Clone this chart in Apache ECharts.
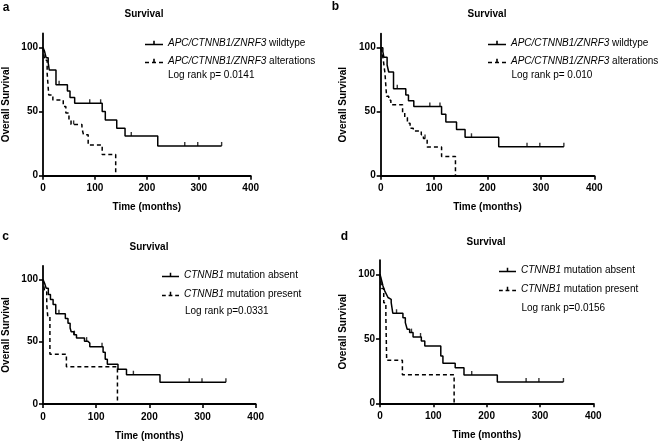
<!DOCTYPE html>
<html><head><meta charset="utf-8">
<script src="https://cdn.jsdelivr.net/npm/echarts@6/dist/echarts.min.js"></script>
<style>html,body{margin:0;padding:0;background:#fff}#c{width:660px;height:442px}</style>
</head><body><div id="c"></div>
<script>
// ---------- DATA ----------
const xTicks = [0, 100, 200, 300, 400];
const yTicks = [0, 50, 100];
const panelLetters = ['a', 'b', 'c', 'd'];
const panelTitle = 'Survival';
const xTitle = 'Time (months)';
const yTitle = 'Overall Survival';
const namesAB = ['APC/CTNNB1/ZNRF3 wildtype', 'APC/CTNNB1/ZNRF3 alterations'];
const namesCD = ['CTNNB1 mutation absent', 'CTNNB1 mutation present'];
const logRankTexts = ['Log rank p= 0.0141', 'Log rank p= 0.010', 'Log rank p=0.0331', 'Log rank p=0.0156'];

// Panel a
const aWildTime = [0,3,6,10,12,25,47,52,61,114,120,142,158,221,344];
const aWildSurv = [100,97,92,88,82.5,71,66,61,56.5,50,43.5,37,31,23.2,23.2];
const aWildCensT = [31,90,111,170,273,298,344];
const aWildCensS = [71,56.5,56.5,31,23.2,23.2,23.2];
const aAltTime = [0,3,8,11,19,39,44,50,54,75,78,87,114,140];
const aAltSurv = [100,90,80,63,59,54,49,43.5,40,37,32,24,16.5,0];
const aAltCensT = [59];
const aAltCensS = [40];
// Panel b
const bWildTime = [0,4,6,12,15,24,47,52,62,114,122,142,158,221,343];
const bWildSurv = [100,97,92.5,86.5,81,68,63,58.5,54,48,42,36,30,22.7,22.7];
const bWildCensT = [31,92,111,170,274,298,343];
const bWildCensS = [68,54,54,30,22.7,22.7,22.7];
const bAltTime = [0,3,5,8,11,15,19,41,45,50,55,61,76,80,87,114,140];
const bAltSurv = [100,95,90,80,62,59,55.5,49,45.5,41,37,35,32,29,22.5,15,0];
const bAltCensT = [83];
const bAltCensS = [29];
// Panel c
const cAbsTime = [0,3,6,10,14,19,24,42,47,51,53,58,63,78,84,88,113,117,121,141,157,220,344];
const cAbsSurv = [100,97,93,88,84,80,72.5,68.6,64.8,61,58,55.7,53,50.5,49,46,41.5,36,32,28,23.5,17.4,17.4];
const cAbsCensT = [30,59,82,111,170,275,299,344];
const cAbsCensS = [72.5,55.7,50.5,46,23.5,17.4,17.4,17.4];
const cPresTime = [0,3,7,9,13,44,140];
const cPresSurv = [100,90,80,70,40,30,0];
// Panel d
const dAbsTime = [0,2.5,5.6,9,12,15,18,21,24,43,47.5,51,55.6,62,77.5,84,114,118,141,157.5,220,344];
const dAbsSurv = [100,96,91,87,84.5,82,80.6,78,69.8,66.4,62.5,57.4,54.8,51.4,48.3,44.4,36.7,31,27.6,22,16.5,16.5];
const dAbsCensT = [31,59,76,172,274,298,344];
const dAbsCensS = [69.8,54.8,51.4,22,16.5,16.5,16.5];
const dPresTime = [0,3,7,11,12.5,42,139];
const dPresSurv = [100,89,78,67,33.3,22.2,0];

// ---------- LAYOUT ----------
const FONT = "'Liberation Sans', Arial, sans-serif";
const zip = (a, b) => a.map((v, i) => [v, b[i]]);
const panels = [
  {grid:{left:37.7, top:33.4, width:213, height:142.3}, names:namesAB,
   curves:[[aWildTime,aWildSurv],[aAltTime,aAltSurv]], cens:[[aWildCensT,aWildCensS],[aAltCensT,aAltCensS]],
   legend:{left:145, top:38, itemWidth:18, itemGap:8}, lr:[168,75], title:[144,14], letter:[6,8]},
  {grid:{left:380.7, top:33.6, width:213.6, height:142.1}, names:namesAB,
   curves:[[bWildTime,bWildSurv],[bAltTime,bAltSurv]], cens:[[bWildCensT,bWildCensS],[bAltCensT,bAltCensS]],
   legend:{left:488, top:38, itemWidth:18, itemGap:8}, lr:[511.5,75], title:[487,14], letter:[335.5,7]},
  {grid:{left:42.3, top:265.8, width:213.4, height:142.9}, names:namesCD,
   curves:[[cAbsTime,cAbsSurv],[cPresTime,cPresSurv]], cens:[[cAbsCensT,cAbsCensS],[[],[]]],
   legend:{left:162, top:270, itemWidth:17, itemGap:9}, lr:[185,311], title:[149,247.5], letter:[5.5,236.5]},
  {grid:{left:380, top:260.1, width:213.3, height:143.2}, names:namesCD,
   curves:[[dAbsTime,dAbsSurv],[dPresTime,dPresSurv]], cens:[[dAbsCensT,dAbsCensS],[[],[]]],
   legend:{left:499, top:265, itemWidth:17, itemGap:9}, lr:[521.5,308.3], title:[486,242], letter:[344.5,236.5]}
];

const solidIcon = 'path://M0,4.2h18v1.6h-18z M8.2,1.2h1.6v3.2h-1.6z';
const dashIcon = 'path://M0,4.2h4v1.6h-4z M7,4.2h4v1.6h-4z M14,4.2h4v1.6h-4z M8.2,1.2h1.6v3.2h-1.6z';

const grids = [], xAxes = [], yAxes = [], series = [], legends = [], graphics = [];
const axisCommon = {
  axisLine:{show:true, lineStyle:{color:'#000', width:1.8}},
  axisTick:{show:true, length:4, lineStyle:{color:'#000', width:1.6}},
  splitLine:{show:false},
  axisLabel:{color:'#000', fontSize:10, fontWeight:'bold', fontFamily:FONT},
  nameTextStyle:{color:'#000', fontSize:10, fontWeight:'bold', fontFamily:FONT},
  nameLocation:'middle'
};
panels.forEach((p, i) => {
  grids.push(Object.assign({containLabel:false}, p.grid));
  xAxes.push(Object.assign({}, axisCommon, {
    type:'value', gridIndex:i, min:xTicks[0], max:xTicks[xTicks.length-1], interval:xTicks[1]-xTicks[0],
    name:xTitle, nameGap:27,
    axisLine:{show:true, onZero:false, lineStyle:{color:'#000', width:1.8}},
    axisLabel:Object.assign({}, axisCommon.axisLabel, {margin:8})
  }));
  yAxes.push(Object.assign({}, axisCommon, {
    type:'value', gridIndex:i, min:0, max:111,
    name:yTitle, nameGap:32,
    axisTick:{show:true, length:4, lineStyle:{color:'#000', width:1.6}, customValues:yTicks},
    axisLabel:Object.assign({}, axisCommon.axisLabel, {margin:5, customValues:yTicks})
  }));
  p.curves.forEach((c, k) => {
    series.push({
      type:'line', name:p.names[k], xAxisIndex:i, yAxisIndex:i, step:'end', symbol:'none',
      data:zip(c[0], c[1]), color:'#000',
      lineStyle:{color:'#000', width:1.5, type: k === 0 ? 'solid' : [4,3]},
      animation:false, silent:true
    });
    const ce = p.cens[k];
    if (ce[0].length) series.push({
      type:'scatter', name:'cens'+i+k, xAxisIndex:i, yAxisIndex:i, symbol:'rect',
      symbolSize:[1.4,4], symbolOffset:[0,-2], data:zip(ce[0], ce[1]),
      itemStyle:{color:'#000'}, animation:false, silent:true
    });
  });
  legends.push({
    orient:'vertical', left:p.legend.left, top:p.legend.top, itemWidth:p.legend.itemWidth, itemHeight:10,
    itemGap:p.legend.itemGap, selectedMode:false, padding:0,
    itemStyle:{color:'#000', borderWidth:0},
    data:[{name:p.names[0], icon:solidIcon}, {name:p.names[1], icon:dashIcon}],
    formatter: n => { const s = n.indexOf(' '); return '{i|' + n.slice(0, s) + '}' + n.slice(s); },
    textStyle:{color:'#000', fontSize:10, fontFamily:FONT,
      rich:{i:{fontStyle:'italic', color:'#000', fontSize:10, fontFamily:FONT}}}
  });
  graphics.push({type:'text', x:p.title[0], y:p.title[1],
    style:{text:panelTitle, font:'bold 10px ' + FONT, fill:'#000', align:'center', verticalAlign:'middle'}});
  graphics.push({type:'text', x:p.letter[0], y:p.letter[1],
    style:{text:panelLetters[i], font:'bold 12px ' + FONT, fill:'#000', align:'center', verticalAlign:'middle'}});
  graphics.push({type:'text', x:p.lr[0], y:p.lr[1],
    style:{text:logRankTexts[i], font:'10px ' + FONT, fill:'#000', align:'left', verticalAlign:'middle'}});
});

const chart = echarts.init(document.getElementById('c'), null, {renderer:'canvas'});
chart.setOption({
  backgroundColor:'#fff', animation:false,
  grid:grids, xAxis:xAxes, yAxis:yAxes, series:series, legend:legends, graphic:graphics
});
</script></body></html>
